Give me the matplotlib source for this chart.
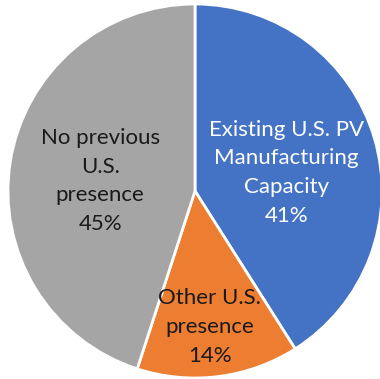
import matplotlib
matplotlib.use("Agg")
import numpy as np
import matplotlib.pyplot as plt

# Share of capacity by prior U.S. presence
labels = ["Existing U.S. PV\nManufacturing\nCapacity", "Other U.S.\npresence", "No previous\nU.S.\npresence"]
shares = [41, 14, 45]
colors = ["#4472C4", "#ED7D31", "#A5A5A5"]
text_colors = ["white", "#1a1a1a", "#1a1a1a"]
label_dist = [0.50, 0.73, 0.51]
label_turn = [-5, -1, 3]  # degrees off the wedge middle

plt.rcParams['font.family'] = ['Lato', 'DejaVu Sans']

W, H = 380, 379
fig = plt.figure(figsize=(W / 100, H / 100), dpi=100)
cx, cy, r = 195, 191, 187
ax = fig.add_axes([(cx - r) / W, (H - cy - r) / H, 2 * r / W, 2 * r / H])

wedges, _ = ax.pie(shares, colors=colors, startangle=90, counterclock=False,
                   radius=1, wedgeprops=dict(edgecolor="white", linewidth=2))
ax.set_xlim(-1, 1)
ax.set_ylim(-1, 1)
ax.set_aspect("auto")
ax.axis("off")

# label text inside each wedge
for w, lab, val, tc, d, t in zip(wedges, labels, shares, text_colors, label_dist, label_turn):
    mid = np.deg2rad((w.theta1 + w.theta2) / 2 + t)
    ax.text(d * np.cos(mid), d * np.sin(mid), f"{lab}\n{val}%", ha="center", va="center",
            color=tc, fontsize=16, linespacing=1.55)

fig.savefig("out.png", dpi=100)
